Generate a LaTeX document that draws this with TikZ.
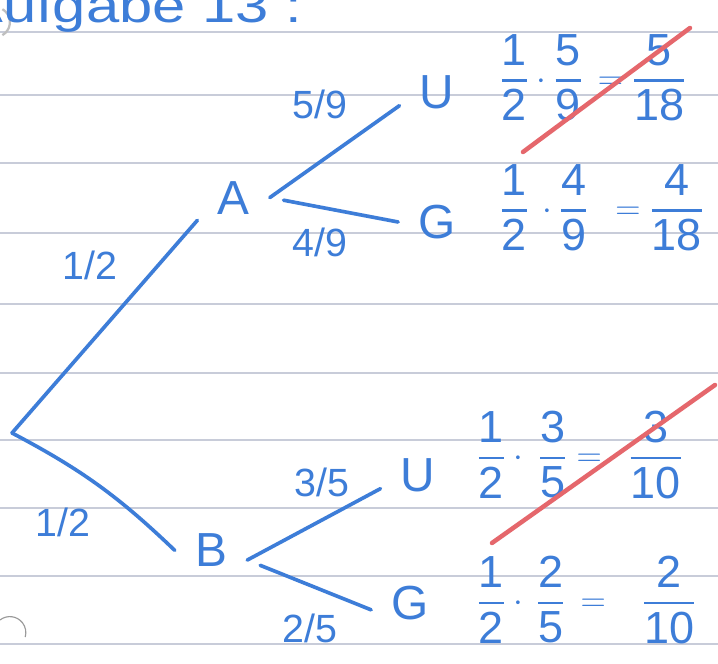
\documentclass[tikz,border=0pt]{standalone}
\usepackage{amsmath}
\usepackage{fontspec}
\setmainfont{Liberation Sans}
\definecolor{ink}{HTML}{3D7DD8}
\definecolor{redpen}{HTML}{E5676C}
\definecolor{paperline}{HTML}{C8CCD9}
\newcommand{\fr}[2]{\genfrac{}{}{1.8pt}{0}{\mbox{#1}}{\mbox{#2}}}

\begin{document}
\begin{tikzpicture}[
    letter/.style={text=ink,font=\fontsize{34}{40}\selectfont,inner xsep=0.5cm,inner ysep=0.15cm},
    prob/.style={text=ink,font=\fontsize{28}{32}\selectfont,inner sep=0pt},
    prod/.style={text=ink,font=\fontsize{32}{38}\selectfont,inner sep=0pt,anchor=west},
    branch/.style={draw=ink,line width=2.6pt,line cap=round},
    strike/.style={draw=redpen,line width=3.2pt,line cap=round},
    ruled/.style={draw=paperline,line width=0.9pt},
    hole/.style={draw=black!40,line width=0.8pt}
  ]
  \useasboundingbox (0,0) rectangle (17.95,16.6);
  \clip (0,0) rectangle (17.95,16.6);
  \fill[white] (0,0) rectangle (17.95,16.6);
  \foreach \py in {32,95,163,233,304,373,440,508,576,644}
    \draw[ruled] (0,{(664-\py)/40}) -- (17.95,{(664-\py)/40});
  \draw[hole] (0,1.1) arc[start angle=128,end angle=-16,radius=0.4];
  \draw[hole,draw=black!25,line width=1.6pt] (0.06,16.37) arc[start angle=60,end angle=-60,radius=0.375];

  \node[text=ink,font=\fontsize{34}{40}\selectfont,anchor=base west,inner sep=0pt] (title) at (-0.925,16.025) {\scalebox{1.25}[1]{Aufgabe 13 :}};

  \coordinate (root) at (0.3,5.775);
  \node[letter] (A) at (5.84,11.66) {A};
  \node[letter] (B) at (5.275,2.84) {B};
  \node[letter] (AU) at (10.925,14.3) {U};
  \node[letter] (AG) at (10.925,11.05) {G};
  \node[letter] (BU) at (10.45,4.725) {U};
  \node[letter] (BG) at (10.25,1.525) {G};

  \draw[branch] (root) -- (A.south west);
  \draw[branch] (root) to[bend left=8] (B.west);
  \draw[branch] (A.east) -- (AU.200);
  \draw[branch,shorten <=0.35cm] (A.east) -- (AG.west);
  \draw[branch] (B.-15) -- (BU.200);
  \draw[branch,shorten <=0.35cm] (B.-15) -- (BG.190);

  \node[prob] (pA) at (2.25,9.975) {1/2};
  \node[prob] (pB) at (1.575,3.55) {1/2};
  \node[prob] (pAU) at (8.0,14.0) {5/9};
  \node[prob] (pAG) at (8.0,10.55) {4/9};
  \node[prob] (pBU) at (8.05,4.55) {3/5};
  \node[prob] (pBG) at (7.75,0.9) {2/5};

  \node[prod] (rAU) at (12.5,14.65) {$\fr{1}{2}\cdot\fr{5}{9}\,=\fr{5}{18}$};
  \node[prod] (rAG) at (12.5,11.4) {$\fr{1}{2}\,\cdot\fr{4}{9}\;\:=\fr{4}{18}$};
  \node[prod] (rBU) at (11.92,5.225) {$\fr{1}{2}\cdot\:\fr{3}{5}=\;\:\fr{3}{10}$};
  \node[prod] (rBG) at (11.92,1.6) {$\fr{1}{2}\cdot\,\fr{2}{5}\,=\;\;\:\fr{2}{10}$};

  \draw[strike] (13.075,12.8) -- (17.25,15.9);
  \draw[strike] (12.3,3.025) -- (17.875,6.975);
\end{tikzpicture}
\end{document}
